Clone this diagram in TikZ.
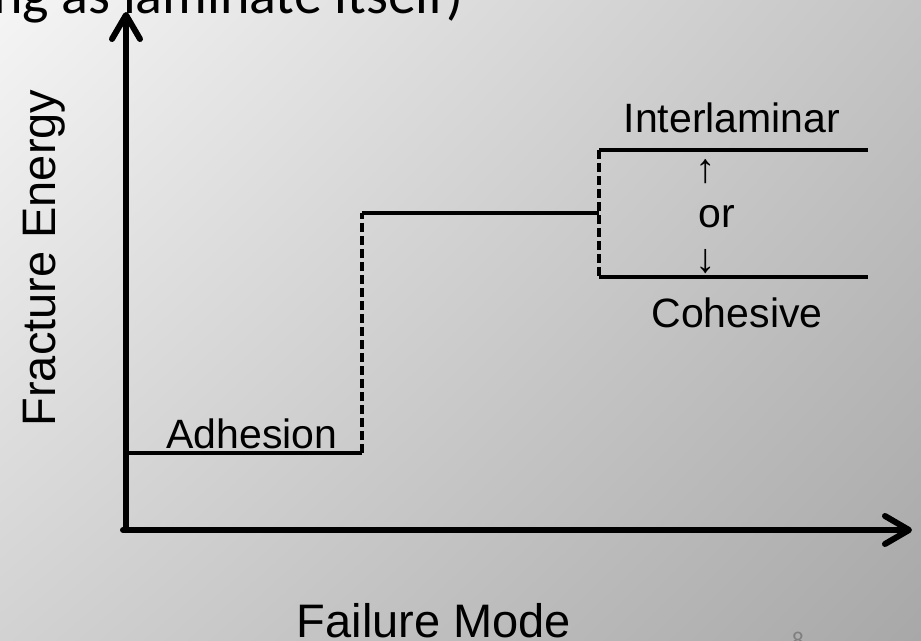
\documentclass[tikz,border=0pt]{standalone}
\usepackage{fontspec}
\setmainfont{Liberation Sans}
\newfontfamily\titlefont{Carlito}
\usetikzlibrary{arrows.meta, shadings}

\definecolor{bgtl}{HTML}{F5F5F5}
\definecolor{bgtr}{HTML}{C4C4C4}
\definecolor{bgbl}{HTML}{D2D2D2}
\definecolor{bgbr}{HTML}{A8A8A8}

\tikzset{
	axis/.style={line width=6pt, line cap=round, -{Straight Barb[length=24pt,width=28pt,round]}},
	level/.style={line width=3.5pt},
	jump/.style={line width=3.5pt, dash pattern=on 9pt off 4pt},
	curvelabel/.style={font=\fontsize{41}{49}\selectfont, inner sep=0pt, anchor=base},
	axislabel/.style={font=\fontsize{47}{56}\selectfont, inner sep=0pt, anchor=base}
}

\begin{document}
\begin{tikzpicture}[x=1pt, y=-1pt]
	%background
	\shade[upper left=bgtl, upper right=bgtr, lower left=bgbl, lower right=bgbr] (0,0) rectangle (921,640);
	\useasboundingbox (0,0) rectangle (921,640);
	
	%axes
	\coordinate (origin) at (126,530);
	\coordinate (ytip) at (126,12);
	\coordinate (xtip) at (912,530);
	\draw[axis] (origin) -- (ytip);
	\draw[axis] ([xshift=-3pt]origin) -- (xtip);
	\node[axislabel] (xlabel) at (434,637) {Failure Mode};
	\node[axislabel, rotate=90] (ylabel) at (55,258) {Fracture Energy};
	
	%levels
	\coordinate (adh-l) at (126,453);
	\coordinate (adh-r) at (362,453);
	\coordinate (mid-l) at (362,213);
	\coordinate (mid-r) at (599,213);
	\coordinate (int-l) at (599,150);
	\coordinate (int-r) at (868,150);
	\coordinate (coh-l) at (599,277);
	\coordinate (coh-r) at (868,277);
	\foreach \a/\b in {adh-l/adh-r, mid-l/mid-r, int-l/int-r, coh-l/coh-r}{
		\draw[level] (\a) -- (\b);
	}
	\draw[jump] (adh-r) -- (mid-l);
	\draw[jump] (int-l) -- (coh-l);
	
	\node[curvelabel] (adh) at (252,448) {Adhesion};
	\node[curvelabel] (int) at (732,132) {Interlaminar};
	\node[curvelabel] (coh) at (737,327) {Cohesive};
	\node[curvelabel] (or) at (717,227) {or};
	\node[curvelabel, anchor=center] (up) at (706,172) {↑};
	\node[curvelabel, anchor=center] (down) at (706,262) {↓};
	
	%slide leftovers
	\node[font=\titlefont\fontsize{56}{60}\selectfont, anchor=base west, inner sep=0pt] (title) at (-7,13) {ng as laminate itself)};
	\node[font=\titlefont\fontsize{24}{28}\selectfont, text=gray, anchor=north, inner sep=0pt] (page) at (798,632) {8};
\end{tikzpicture}
\end{document}
